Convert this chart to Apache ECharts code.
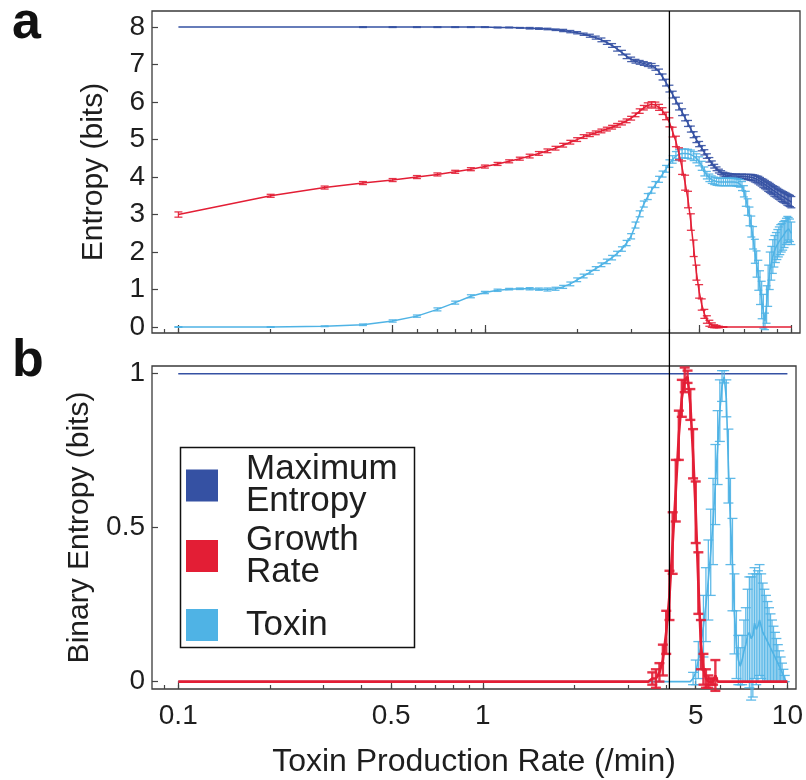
<!DOCTYPE html>
<html>
<head>
<meta charset="utf-8">
<script src="https://cdn.jsdelivr.net/npm/echarts@6/dist/echarts.min.js"></script>
<style>
  html, body { margin: 0; padding: 0; background: #fff; }
  #chart { width: 806px; height: 780px; }
</style>
</head>
<body>
<div id="chart"></div>
<script>
// toxin production rate (/min)
var rate = [
  0.1, 0.2, 0.3, 0.4, 0.5, 0.6, 0.7, 0.8, 0.9, 1.0,
  1.1, 1.2, 1.3, 1.4, 1.5, 1.6, 1.7, 1.8, 1.9, 2.0,
  2.1, 2.2, 2.3, 2.4, 2.5, 2.6, 2.7, 2.8, 2.9, 3.0,
  3.1, 3.2, 3.3, 3.4, 3.5, 3.6, 3.7, 3.8, 3.9, 4.0,
  4.1, 4.2, 4.3, 4.4, 4.5, 4.6, 4.7, 4.8, 4.9, 5.0,
  5.1, 5.2, 5.3, 5.4, 5.5, 5.6, 5.7, 5.8, 5.9, 6.0,
  6.1, 6.2, 6.3, 6.4, 6.5, 6.6, 6.7, 6.8, 6.9, 7.0,
  7.1, 7.2, 7.3, 7.4, 7.5, 7.6, 7.7, 7.8, 7.9, 8.0,
  8.1, 8.2, 8.3, 8.4, 8.5, 8.6, 8.7, 8.8, 8.9, 9.0,
  9.1, 9.2, 9.3, 9.4, 9.5, 9.6, 9.7, 9.8, 9.9, 10.0
];

// panel a: entropy (bits)
var maxEnt = [
  8, 8, 8, 8, 8, 8, 8, 8, 8, 8,
  7.99, 7.99, 7.98, 7.97, 7.96, 7.95, 7.93, 7.91, 7.88, 7.85,
  7.81, 7.77, 7.72, 7.66, 7.59, 7.51, 7.42, 7.32, 7.22, 7.14,
  7.09, 7.06, 7.03, 7.00, 6.97, 6.91, 6.81, 6.67, 6.52, 6.36,
  6.20, 6.04, 5.88, 5.73, 5.58, 5.43, 5.28, 5.13, 5.00, 4.88,
  4.77, 4.66, 4.56, 4.46, 4.37, 4.29, 4.22, 4.16, 4.12, 4.08,
  4.06, 4.05, 4.04, 4.03, 4.03, 4.03, 4.02, 4.02, 4.02, 4.01,
  4.01, 4.00, 4.00, 3.99, 3.98, 3.96, 3.94, 3.92, 3.89, 3.86,
  3.83, 3.80, 3.77, 3.74, 3.71, 3.68, 3.65, 3.62, 3.60, 3.57,
  3.54, 3.52, 3.49, 3.47, 3.45, 3.43, 3.40, 3.38, 3.36, 3.33
];
var maxEntErr = [
  0, 0, 0, 0.01, 0.01, 0.01, 0.01, 0.01, 0.01, 0.01,
  0.01, 0.01, 0.01, 0.02, 0.02, 0.02, 0.02, 0.03, 0.03, 0.03,
  0.03, 0.04, 0.04, 0.05, 0.05, 0.05, 0.06, 0.06, 0.06, 0.06,
  0.05, 0.05, 0.05, 0.05, 0.06, 0.06, 0.07, 0.08, 0.09, 0.09,
  0.09, 0.09, 0.09, 0.09, 0.08, 0.08, 0.08, 0.08, 0.08, 0.07,
  0.07, 0.07, 0.06, 0.06, 0.06, 0.05, 0.05, 0.05, 0.05, 0.05,
  0.05, 0.05, 0.05, 0.05, 0.05, 0.05, 0.05, 0.05, 0.06, 0.06,
  0.06, 0.07, 0.07, 0.08, 0.08, 0.09, 0.09, 0.10, 0.10, 0.10,
  0.11, 0.11, 0.11, 0.12, 0.12, 0.12, 0.12, 0.13, 0.13, 0.13,
  0.13, 0.13, 0.14, 0.14, 0.14, 0.14, 0.15, 0.15, 0.15, 0.15
];
var growth = [
  3.00, 3.50, 3.72, 3.84, 3.92, 4.00, 4.07, 4.14, 4.21, 4.28,
  4.35, 4.42, 4.49, 4.56, 4.63, 4.70, 4.77, 4.85, 4.93, 5.00,
  5.08, 5.13, 5.18, 5.23, 5.28, 5.33, 5.38, 5.44, 5.50, 5.57,
  5.66, 5.76, 5.85, 5.91, 5.94, 5.92, 5.86, 5.76, 5.63, 5.46,
  5.20, 4.95, 4.62, 4.25, 3.85, 3.40, 2.80, 2.10, 1.45, 0.95,
  0.60, 0.35, 0.20, 0.10, 0.05, 0.02, 0.01, 0, 0, 0,
  0, 0, 0, 0, 0, 0, 0, 0, 0, 0,
  0, 0, 0, 0, 0, 0, 0, 0, 0, 0,
  0, 0, 0, 0, 0, 0, 0, 0, 0, 0,
  0, 0, 0, 0, 0, 0, 0, 0, 0, 0
];
var growthErr = [
  0.07, 0.04, 0.04, 0.04, 0.04, 0.04, 0.04, 0.04, 0.04, 0.04,
  0.04, 0.04, 0.04, 0.05, 0.05, 0.05, 0.05, 0.05, 0.05, 0.05,
  0.05, 0.05, 0.05, 0.05, 0.05, 0.05, 0.05, 0.05, 0.05, 0.05,
  0.05, 0.06, 0.06, 0.07, 0.07, 0.08, 0.08, 0.09, 0.10, 0.12,
  0.13, 0.14, 0.16, 0.18, 0.20, 0.22, 0.22, 0.22, 0.20, 0.18,
  0.15, 0.12, 0.10, 0.08, 0.06, 0.04, 0.03, 0.02, 0.01, 0.01,
  0, 0, 0, 0, 0, 0, 0, 0, 0, 0,
  0, 0, 0, 0, 0, 0, 0, 0, 0, 0,
  0, 0, 0, 0, 0, 0, 0, 0, 0, 0,
  0, 0, 0, 0, 0, 0, 0, 0, 0, 0
];
var toxin = [
  0.00, 0.00, 0.02, 0.06, 0.16, 0.29, 0.47, 0.65, 0.82, 0.92,
  0.98, 1.01, 1.02, 1.02, 1.01, 1.00, 1.02, 1.07, 1.15, 1.26,
  1.36, 1.46, 1.56, 1.66, 1.75, 1.85, 1.96, 2.08, 2.24, 2.42,
  2.72, 3.02, 3.28, 3.48, 3.65, 3.80, 3.94, 4.08, 4.22, 4.36,
  4.47, 4.56, 4.61, 4.63, 4.63, 4.62, 4.60, 4.56, 4.50, 4.42,
  4.30, 4.15, 4.05, 3.98, 3.93, 3.90, 3.88, 3.87, 3.87, 3.87,
  3.87, 3.87, 3.87, 3.87, 3.87, 3.86, 3.85, 3.83, 3.76, 3.62,
  3.42, 3.20, 2.95, 2.68, 2.38, 2.02, 1.68, 1.38, 1.05, 0.72,
  0.42, 0.15, 0.60, 1.10, 1.50, 1.70, 1.88, 2.02, 2.12, 2.20,
  2.27, 2.33, 2.38, 2.43, 2.48, 2.55, 2.60, 2.62, 2.58, 2.50
];
var toxinErr = [
  0.01, 0.01, 0.01, 0.02, 0.03, 0.03, 0.04, 0.04, 0.04, 0.03,
  0.03, 0.02, 0.02, 0.03, 0.03, 0.04, 0.04, 0.04, 0.05, 0.05,
  0.05, 0.05, 0.05, 0.05, 0.06, 0.06, 0.06, 0.06, 0.07, 0.07,
  0.08, 0.08, 0.08, 0.08, 0.08, 0.08, 0.08, 0.08, 0.09, 0.10,
  0.10, 0.12, 0.12, 0.12, 0.12, 0.12, 0.12, 0.12, 0.12, 0.12,
  0.12, 0.12, 0.10, 0.10, 0.10, 0.10, 0.10, 0.10, 0.10, 0.10,
  0.10, 0.10, 0.10, 0.10, 0.10, 0.10, 0.10, 0.10, 0.12, 0.15,
  0.20, 0.22, 0.25, 0.28, 0.30, 0.32, 0.35, 0.40, 0.45, 0.50,
  0.45, 0.22, 0.50, 0.55, 0.50, 0.45, 0.45, 0.42, 0.40, 0.40,
  0.40, 0.40, 0.38, 0.38, 0.36, 0.35, 0.35, 0.30, 0.30, 0.30
];

// panel b: binary entropy (bits)
var maxBin = [
  1, 1, 1, 1, 1, 1, 1, 1, 1, 1,
  1, 1, 1, 1, 1, 1, 1, 1, 1, 1,
  1, 1, 1, 1, 1, 1, 1, 1, 1, 1,
  1, 1, 1, 1, 1, 1, 1, 1, 1, 1,
  1, 1, 1, 1, 1, 1, 1, 1, 1, 1,
  1, 1, 1, 1, 1, 1, 1, 1, 1, 1,
  1, 1, 1, 1, 1, 1, 1, 1, 1, 1,
  1, 1, 1, 1, 1, 1, 1, 1, 1, 1,
  1, 1, 1, 1, 1, 1, 1, 1, 1, 1,
  1, 1, 1, 1, 1, 1, 1, 1, 1, 1
];
var growthBin = [
  0, 0, 0, 0, 0, 0, 0, 0, 0, 0,
  0, 0, 0, 0, 0, 0, 0, 0, 0, 0,
  0, 0, 0, 0, 0, 0, 0, 0, 0, 0,
  0, 0, 0, 0, 0, 0.01, 0.01, 0.03, 0.07, 0.16,
  0.28, 0.45, 0.62, 0.80, 0.92, 0.98, 0.99, 0.90, 0.74, 0.55,
  0.32, 0.12, 0.04, 0.01, 0, 0, 0, 0.02, 0, 0,
  0, 0, 0, 0, 0, 0, 0, 0, 0, 0,
  0, 0, 0, 0, 0, 0, 0, 0, 0, 0,
  0, 0, 0, 0, 0, 0, 0, 0, 0, 0,
  0, 0, 0, 0, 0, 0, 0, 0, 0, 0
];
var growthBinErr = [
  0, 0, 0, 0, 0, 0, 0, 0, 0, 0,
  0, 0, 0, 0, 0, 0, 0, 0, 0, 0,
  0, 0, 0, 0, 0, 0, 0, 0, 0, 0,
  0, 0, 0, 0, 0, 0.02, 0.03, 0.03, 0.05, 0.07,
  0.08, 0.10, 0.10, 0.08, 0.06, 0.04, 0.02, 0.05, 0.08, 0.10,
  0.10, 0.08, 0.05, 0.03, 0.02, 0.01, 0.01, 0.05, 0, 0,
  0, 0, 0, 0, 0, 0, 0, 0, 0, 0,
  0, 0, 0, 0, 0, 0, 0, 0, 0, 0,
  0, 0, 0, 0, 0, 0, 0, 0, 0, 0,
  0, 0, 0, 0, 0, 0, 0, 0, 0, 0
];
var toxinBin = [
  0, 0, 0, 0, 0, 0, 0, 0, 0, 0,
  0, 0, 0, 0, 0, 0, 0, 0, 0, 0,
  0, 0, 0, 0, 0, 0, 0, 0, 0, 0,
  0, 0, 0, 0, 0, 0, 0, 0, 0, 0,
  0, 0, 0, 0, 0, 0, 0, 0, 0.01, 0.03,
  0.07, 0.12, 0.18, 0.25, 0.33, 0.42, 0.52, 0.64, 0.76, 0.88,
  0.96, 0.99, 0.92, 0.70, 0.52, 0.38, 0.22, 0.12, 0.07, 0.05,
  0.07, 0.10, 0.12, 0.15, 0.16, 0.14, 0.15, 0.19, 0.17, 0.18,
  0.20, 0.18, 0.16, 0.15, 0.14, 0.13, 0.12, 0.11, 0.10, 0.09,
  0.08, 0.07, 0.06, 0.05, 0.04, 0.03, 0.02, 0.01, 0, 0
];
var toxinBinErr = [
  0, 0, 0, 0, 0, 0, 0, 0, 0, 0,
  0, 0, 0, 0, 0, 0, 0, 0, 0, 0,
  0, 0, 0, 0, 0, 0, 0, 0, 0, 0,
  0, 0, 0, 0, 0, 0, 0, 0, 0, 0,
  0, 0, 0, 0, 0, 0, 0, 0, 0.02, 0.04,
  0.06, 0.08, 0.10, 0.12, 0.13, 0.14, 0.14, 0.13, 0.12, 0.10,
  0.05, 0.02, 0.06, 0.12, 0.14, 0.15, 0.13, 0.11, 0.08, 0.06,
  0.08, 0.10, 0.12, 0.15, 0.18, 0.20, 0.20, 0.18, 0.18, 0.18,
  0.18, 0.17, 0.16, 0.15, 0.14, 0.13, 0.12, 0.11, 0.10, 0.09,
  0.08, 0.07, 0.06, 0.05, 0.04, 0.03, 0.02, 0.01, 0, 0
];

var cutRate = 4.0;   // vertical marker
var xTicks = [0.09, 0.1, 0.2, 0.3, 0.4, 0.5, 0.6, 0.7, 0.8, 0.9, 1, 2, 3, 4, 5, 6, 7, 8, 9, 10];
var xLabels = [0.1, 0.5, 1, 5, 10];
var yTopTicks = [0, 1, 2, 3, 4, 5, 6, 7, 8];
var yBotTicks = [0, 0.5, 1];

var C_MAX = '#3551a3', C_GROW = '#e31e35', C_TOX = '#4fb3e5';
var FONT = 'Liberation Sans';
var TXT = '#1e1e1e';

var myChart = echarts.init(document.getElementById('chart'));

function lg(v) { return Math.log10(v); }
function pts(vals) {
    return rate.map(function (r, i) { return [lg(r), vals[i]]; });
}
function bars(vals, errs) {
    var out = [];
    rate.forEach(function (r, i) {
        if (errs[i] > 0) out.push([lg(r), vals[i] - errs[i], vals[i] + errs[i]]);
    });
    return out;
}

function lineSeries(name, panel, color, vals, width, z) {
    return {
        name: name, type: 'line', xAxisIndex: panel * 2, yAxisIndex: panel,
        data: pts(vals), showSymbol: false, symbol: 'none', silent: true,
        color: color, lineStyle: {color: color, width: width}, z: z, animation: false
    };
}
function errSeries(name, panel, color, vals, errs, width, cap, z) {
    return {
        name: name, type: 'custom', xAxisIndex: panel * 2, yAxisIndex: panel,
        data: bars(vals, errs), color: color, silent: true, z: z, animation: false,
        renderItem: function (params, api) {
            var lo = api.coord([api.value(0), api.value(1)]);
            var hi = api.coord([api.value(0), api.value(2)]);
            var st = {stroke: color, lineWidth: width, opacity: 0.9};
            return {
                type: 'group',
                children: [
                    {type: 'line', shape: {x1: lo[0], y1: lo[1], x2: hi[0], y2: hi[1]}, style: st},
                    {type: 'line', shape: {x1: lo[0] - cap, y1: lo[1], x2: lo[0] + cap, y2: lo[1]}, style: st},
                    {type: 'line', shape: {x1: hi[0] - cap, y1: hi[1], x2: hi[0] + cap, y2: hi[1]}, style: st}
                ]
            };
        }
    };
}

function xAxisFor(panel, ticks, len, labels) {
    return {
        type: 'value', gridIndex: panel, position: 'bottom', min: lg(0.082), max: lg(10.67),
        axisLine: {show: false, onZero: false}, splitLine: {show: false},
        axisTick: {show: true, inside: true, length: len, customValues: ticks.map(lg),
            lineStyle: {color: '#444', width: 1.2}},
        axisLabel: labels ? {
            show: true, customValues: xLabels.map(lg), margin: 13,
            fontSize: 28, fontFamily: FONT, color: TXT,
            formatter: function (v) { return String(+Math.pow(10, v).toPrecision(2)); }
        } : {show: false},
        name: labels ? 'Toxin Production Rate (/min)' : '',
        nameLocation: 'middle', nameGap: 57,
        nameTextStyle: {fontSize: 32, fontFamily: FONT, color: TXT}
    };
}

var gridStyle = {show: true, borderColor: '#3a3a3a', borderWidth: 1.3, backgroundColor: 'transparent'};

myChart.setOption({
    animation: false,
    grid: [
        Object.assign({left: 152, right: 6, top: 11, height: 322}, gridStyle),
        Object.assign({left: 152, right: 6, top: 366, height: 323}, gridStyle)
    ],
    xAxis: [
        xAxisFor(0, xTicks, 4, false),
        xAxisFor(0, xLabels, 8, false),
        xAxisFor(1, xTicks, 4, false),
        xAxisFor(1, xLabels, 8, true)
    ],
    yAxis: [
        {
            type: 'value', gridIndex: 0, position: 'left', min: -0.16, max: 8.43,
            axisLine: {show: false, onZero: false}, splitLine: {show: false},
            axisTick: {show: true, inside: true, length: 6, customValues: yTopTicks,
                lineStyle: {color: '#444', width: 1.2}},
            axisLabel: {customValues: yTopTicks, margin: 7, fontSize: 28, fontFamily: FONT, color: TXT},
            name: 'Entropy (bits)', nameLocation: 'middle', nameGap: 43,
            nameTextStyle: {fontSize: 30, fontFamily: FONT, color: TXT}
        },
        {
            type: 'value', gridIndex: 1, position: 'left', min: -0.024, max: 1.025,
            axisLine: {show: false, onZero: false}, splitLine: {show: false},
            axisTick: {show: true, inside: true, length: 6, customValues: yBotTicks,
                lineStyle: {color: '#444', width: 1.2}},
            axisLabel: {customValues: yBotTicks, margin: 7, fontSize: 28, fontFamily: FONT, color: TXT},
            name: 'Binary Entropy (bits)', nameLocation: 'middle', nameGap: 56,
            nameTextStyle: {fontSize: 30, fontFamily: FONT, color: TXT}
        }
    ],
    legend: {
        orient: 'vertical', left: 186, top: 452, padding: 0,
        itemWidth: 32, itemHeight: 32, itemGap: 3.5,
        selectedMode: false,
        textStyle: {fontSize: 35, lineHeight: 32, fontFamily: FONT, color: TXT, padding: [0, 0, 0, 23]},
        formatter: function (name) { return name.replace(' ', '\n'); },
        data: [
            {name: 'Maximum Entropy', icon: 'rect'},
            {name: 'Growth Rate', icon: 'rect'},
            {name: 'Toxin', icon: 'rect', textStyle: {padding: [7, 0, 25, 23]}}
        ]
    },
    series: [
        lineSeries('Maximum Entropy', 0, C_MAX, maxEnt, 1.5, 2),
        errSeries('Maximum Entropy', 0, C_MAX, maxEnt, maxEntErr, 1.3, 4, 2),
        lineSeries('Toxin', 0, C_TOX, toxin, 1.5, 3),
        errSeries('Toxin', 0, C_TOX, toxin, toxinErr, 1.3, 4, 3),
        lineSeries('Growth Rate', 0, C_GROW, growth, 1.5, 4),
        errSeries('Growth Rate', 0, C_GROW, growth, growthErr, 1.3, 4, 4),

        lineSeries('Maximum Entropy', 1, C_MAX, maxBin, 1.5, 2),
        lineSeries('Toxin', 1, C_TOX, toxinBin, 1.6, 3),
        errSeries('Toxin', 1, C_TOX, toxinBin, toxinBinErr, 1.3, 5, 3),
        lineSeries('Growth Rate', 1, C_GROW, growthBin, 2.6, 4),
        errSeries('Growth Rate', 1, C_GROW, growthBin, growthBinErr, 2.4, 5, 4)
    ]
});

// vertical marker through both panels, panel letters, legend frame
var vx = myChart.convertToPixel({xAxisIndex: 0}, lg(cutRate));
var vTop = myChart.convertToPixel({yAxisIndex: 0}, 8.43);
var vBot = myChart.convertToPixel({yAxisIndex: 1}, -0.024);
myChart.setOption({
    graphic: [
        {type: 'line', z: 50, shape: {x1: vx, y1: vTop, x2: vx, y2: vBot},
            style: {stroke: '#000', lineWidth: 1.3}},
        {type: 'rect', z: 50, left: 178, top: 445, shape: {width: 234, height: 200},
            style: {fill: 'none', stroke: '#111', lineWidth: 1.5}},
        {type: 'text', left: 12, top: -2, style: {text: 'a', font: 'bold 52px "Liberation Sans"', fill: '#111'}},
        {type: 'text', left: 12, top: 336, style: {text: 'b', font: 'bold 52px "Liberation Sans"', fill: '#111'}}
    ]
});
</script>
</body>
</html>
